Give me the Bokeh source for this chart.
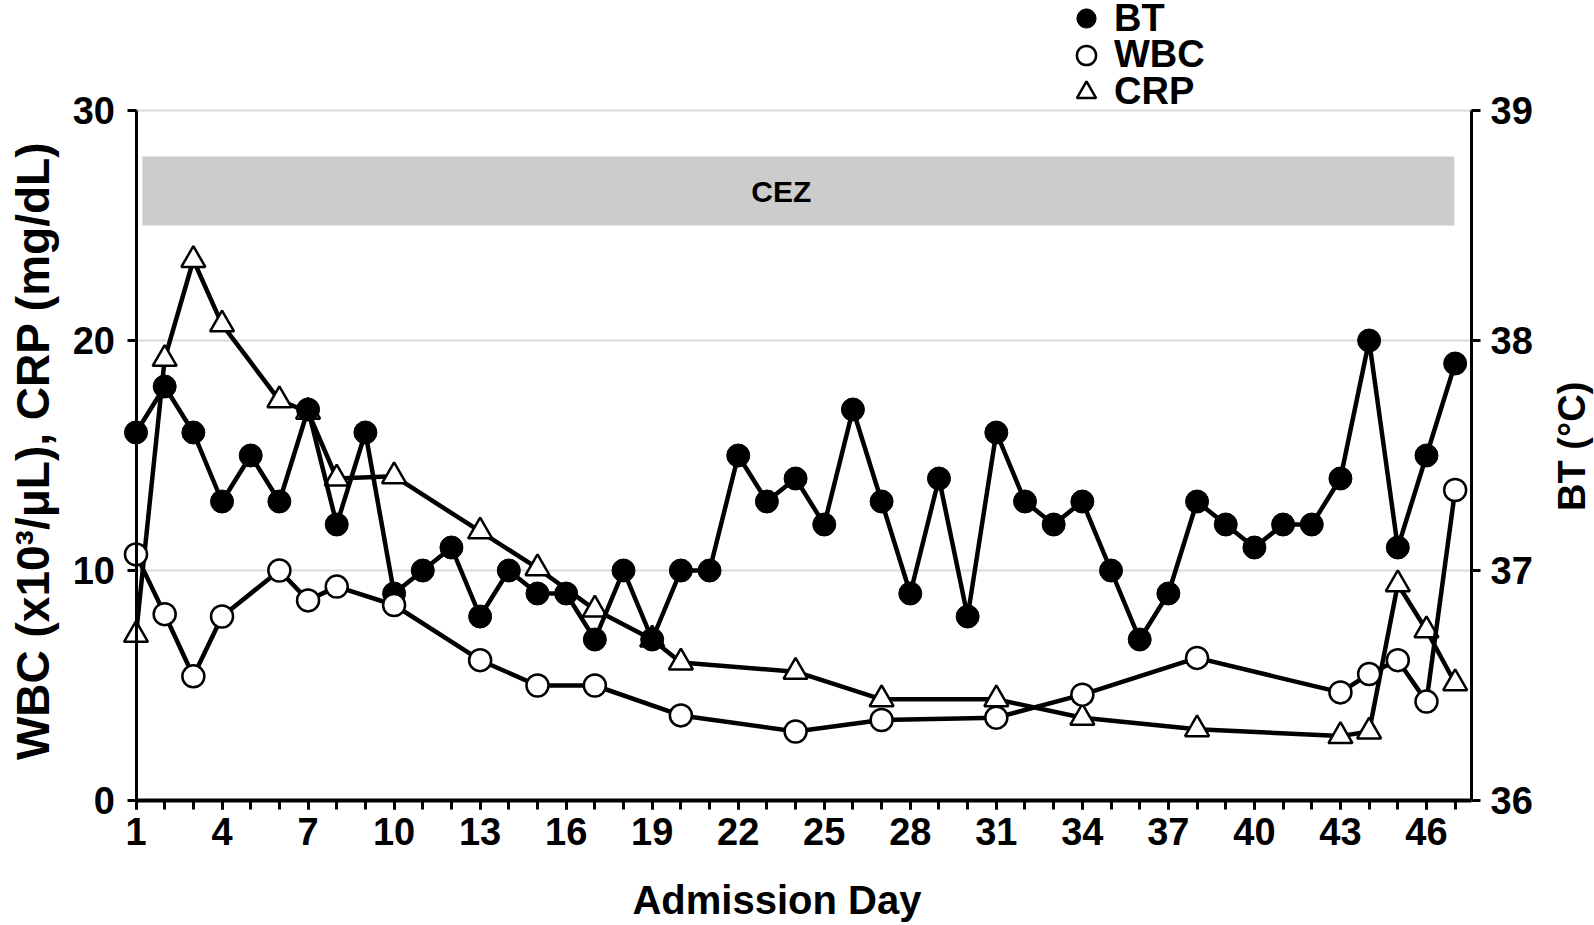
import math
from bokeh.plotting import figure
from bokeh.models import (Range1d, LinearAxis, FixedTicker, Legend, LegendItem,
                          ColumnDataSource, Label)
from bokeh.embed import file_html
from bokeh.resources import INLINE

# ---------------- data ----------------
bt_days = list(range(1, 48))
bt_vals = [37.6, 37.8, 37.6, 37.3, 37.5, 37.3, 37.7, 37.2, 37.6, 36.9,
           37.0, 37.1, 36.8, 37.0, 36.9, 36.9, 36.7, 37.0, 36.7, 37.0,
           37.0, 37.5, 37.3, 37.4, 37.2, 37.7, 37.3, 36.9, 37.4, 36.8,
           37.6, 37.3, 37.2, 37.3, 37.0, 36.7, 36.9, 37.3, 37.2, 37.1,
           37.2, 37.2, 37.4, 38.0, 37.1, 37.5, 37.9]

wbc_days = [1, 2, 3, 4, 6, 7, 8, 10, 13, 15, 17, 20, 24, 27, 31, 34, 38, 43, 44, 45, 46, 47]
wbc_vals = [10.7, 8.1, 5.4, 8.0, 10.0, 8.7, 9.3, 8.5, 6.1, 5.0, 5.0, 3.7, 3.0, 3.5, 3.6,
            4.6, 6.2, 4.7, 5.5, 6.1, 4.3, 13.5]

crp_days = [1, 2, 3, 4, 6, 7, 8, 10, 13, 15, 17, 19, 20, 24, 27, 31, 34, 38, 43, 44, 45, 46, 47]
crp_vals = [7.2, 19.2, 23.5, 20.7, 17.4, 16.9, 14.0, 14.1, 11.7, 10.1, 8.3, 7.0, 6.0, 5.6,
            4.4, 4.4, 3.6, 3.1, 2.8, 3.0, 9.4, 7.4, 5.1]

x_major_ticks = list(range(1, 48, 3))
x_minor_ticks = list(range(1, 48))
left_ticks = [0, 10, 20, 30]
right_ticks = [36, 37, 38, 39]
grid_ticks = [10, 20, 30]

cez_start, cez_end = 1.22, 46.97
cez_bottom, cez_top = 25, 28
cez_label = "CEZ"
cez_label_x = 23.5

left_title = "WBC (x10³/μL), CRP (mg/dL)"
right_title = "BT (°C)"
x_title = "Admission Day"

FONT = "Liberation Sans"

# ---------------- geometry ----------------
W, H = 1594, 925
X_FIRST, X_LAST = 1, 47.57          # left axis at day 1, right axis at day 47.57
Y_LOW, Y_HIGH = 0, 30               # left axis extent
BT_LOW, BT_HIGH = 36, 39            # right axis extent
LEFT_PX, RIGHT_PX = 135.5, 1471     # canvas x of the two y axes
ZERO_PX, TOP_PX = 800, 110          # canvas y of 0 and 30

px_day = (RIGHT_PX - LEFT_PX) / (X_LAST - X_FIRST)
px_unit = (ZERO_PX - TOP_PX) / (Y_HIGH - Y_LOW)
x_start = X_FIRST - LEFT_PX / px_day
x_end = X_FIRST + (W - LEFT_PX) / px_day
y_end = ZERO_PX / px_unit
y_start = -(H - ZERO_PX) / px_unit
bt_scale = (BT_HIGH - BT_LOW) / (Y_HIGH - Y_LOW)

p = figure(width=W, height=H, min_border=0,
           x_range=Range1d(x_start, x_end), y_range=Range1d(y_start, y_end),
           output_backend="svg", toolbar_location=None,
           background_fill_color="white", border_fill_color="white")
p.outline_line_color = None
p.extra_y_ranges = {"bt": Range1d(BT_LOW + y_start * bt_scale, BT_LOW + y_end * bt_scale)}

# grid lines only between the two y axes
p.xgrid.visible = False
p.ygrid.visible = False
p.segment(x0=X_FIRST, x1=X_LAST, y0=grid_ticks, y1=grid_ticks,
          line_color="#d9d9d9", line_width=2, level="underlay")

def style_axis(ax):
    ax.axis_line_color = "black"
    ax.axis_line_width = 3
    ax.major_tick_line_color = "black"
    ax.major_tick_line_width = 3
    ax.major_tick_out = 9
    ax.major_tick_in = 0
    ax.minor_tick_line_color = None
    ax.major_label_text_font = FONT
    ax.major_label_text_font_style = "bold"
    ax.major_label_text_font_size = "38px"
    ax.major_label_text_color = "black"

xa = p.xaxis[0]
style_axis(xa)
xa.fixed_location = Y_LOW
xa.bounds = (X_FIRST, X_LAST)
xa.ticker = FixedTicker(ticks=x_major_ticks, minor_ticks=x_minor_ticks)
xa.minor_tick_line_color = "black"
xa.minor_tick_line_width = 3
xa.minor_tick_out = 9
xa.minor_tick_in = 0
xa.axis_line_width = 4
xa.major_label_standoff = 8

ya = p.yaxis[0]
style_axis(ya)
ya.fixed_location = X_FIRST
ya.bounds = (Y_LOW, Y_HIGH)
ya.ticker = FixedTicker(ticks=left_ticks)
ya.major_label_standoff = 12

ra = LinearAxis(y_range_name="bt")
style_axis(ra)
ra.fixed_location = X_LAST
ra.bounds = (BT_LOW, BT_HIGH)
ra.ticker = FixedTicker(ticks=right_ticks)
ra.major_label_standoff = 10
p.add_layout(ra, "right")

# axis titles
title_style = dict(text_font=FONT, text_font_style="bold", text_color="black",
                   text_align="center", text_baseline="middle")
p.add_layout(Label(x=X_FIRST, y=15.2, x_offset=-103, angle=math.pi / 2,
                   text=left_title, text_font_size="46px", **title_style))
p.add_layout(Label(x=X_LAST, y=15.4, x_offset=100, angle=math.pi / 2,
                   text=right_title, text_font_size="38px", **title_style))
p.add_layout(Label(x=23.35, y=Y_LOW, y_offset=-99,
                   text=x_title, text_font_size="40px", **title_style))

# CEZ bar
p.quad(left=[cez_start], right=[cez_end], bottom=[cez_bottom], top=[cez_top],
       fill_color="#cccccc", line_color=None)
p.add_layout(Label(x=cez_label_x, y=(cez_bottom + cez_top) / 2, text=cez_label,
                   text_font=FONT, text_font_style="bold", text_font_size="30px",
                   text_align="center", text_baseline="middle", text_color="black"))

# series
crp_src = ColumnDataSource(dict(x=crp_days, y=crp_vals))
bt_src = ColumnDataSource(dict(x=bt_days, y=bt_vals))
wbc_src = ColumnDataSource(dict(x=wbc_days, y=wbc_vals))

LW = 4.5
p.line("x", "y", source=crp_src, line_color="black", line_width=LW)
r_crp = p.scatter("x", "y", source=crp_src, marker="triangle", size=24,
                  fill_color="white", line_color="black", line_width=2.5)

p.line("x", "y", source=bt_src, y_range_name="bt", line_color="black", line_width=LW)
r_bt = p.scatter("x", "y", source=bt_src, y_range_name="bt", marker="circle", size=23,
                 fill_color="black", line_color="black", line_width=1)

p.line("x", "y", source=wbc_src, line_color="black", line_width=LW)
r_wbc = p.scatter("x", "y", source=wbc_src, marker="circle", size=22,
                  fill_color="white", line_color="black", line_width=2.5)

# legend: one single-item legend per row, stacked above the 0-30 part of the plot
legend_rows = [("BT", r_bt, 18), ("WBC", r_wbc, 54.5), ("CRP", r_crp, 91.5)]
for name, rend, center_from_top in legend_rows:
    lg = Legend(items=[LegendItem(label=name, renderers=[rend])],
                location=(1062, H - (center_from_top + 24)),
                orientation="vertical",
                glyph_width=48, glyph_height=48, spacing=0, padding=0, margin=0,
                label_standoff=4, label_height=20, border_line_color=None,
                background_fill_alpha=0,
                label_text_font=FONT, label_text_font_style="bold",
                label_text_font_size="38px", label_text_color="black")
    p.add_layout(lg, "center")

open("out.html", "w").write(file_html(p, INLINE))
